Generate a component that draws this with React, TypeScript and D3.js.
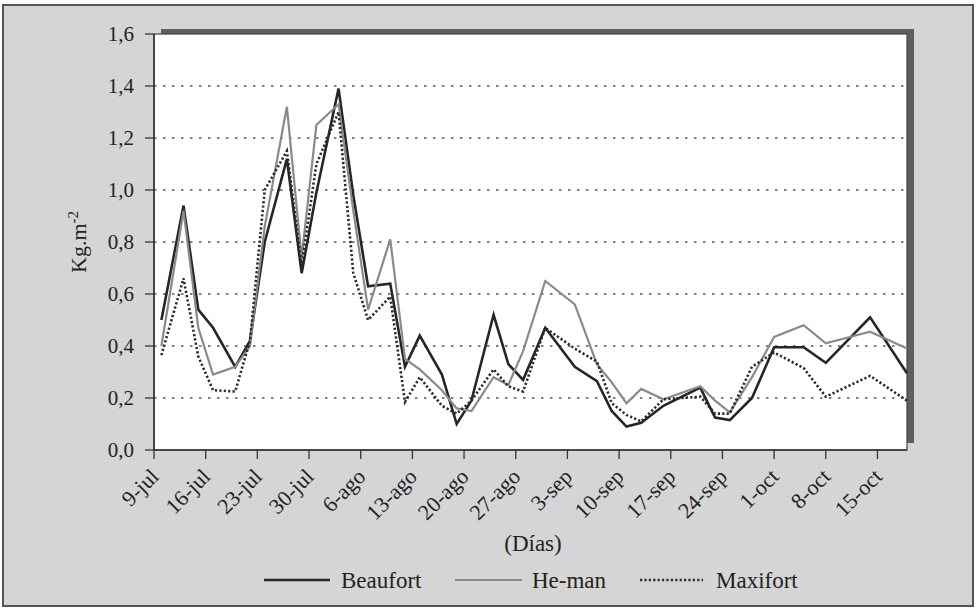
import React from 'react';
import * as d3 from 'd3';

// sampling dates (year is arbitrary, only day/month matter)
const dates = [
  '2003-07-10', '2003-07-13', '2003-07-15', '2003-07-17', '2003-07-20', '2003-07-22', '2003-07-24',
  '2003-07-27', '2003-07-29', '2003-07-31', '2003-08-03', '2003-08-05', '2003-08-07', '2003-08-10',
  '2003-08-12', '2003-08-14', '2003-08-17', '2003-08-19', '2003-08-21', '2003-08-24', '2003-08-26',
  '2003-08-28', '2003-08-31', '2003-09-04', '2003-09-07', '2003-09-09', '2003-09-11', '2003-09-13',
  '2003-09-16', '2003-09-21', '2003-09-23', '2003-09-25', '2003-09-28', '2003-10-01', '2003-10-05',
  '2003-10-08', '2003-10-14', '2003-10-19'
];

const beaufort = [
  0.50, 0.94, 0.54, 0.47, 0.32, 0.42, 0.80, 1.12, 0.68, 0.99,
  1.39, 0.98, 0.63, 0.64, 0.32, 0.44, 0.29, 0.10, 0.19, 0.52, 0.33, 0.27, 0.47,
  0.32, 0.265, 0.15, 0.09, 0.105, 0.17, 0.24, 0.125, 0.115, 0.20,
  0.395, 0.395, 0.335, 0.51, 0.295
];

const heman = [
  0.40, 0.92, 0.47, 0.29, 0.32, 0.40, 0.86, 1.32, 0.74, 1.25,
  1.33, 0.92, 0.54, 0.81, 0.35, 0.31, 0.23, 0.16, 0.15, 0.28, 0.25, 0.38, 0.65,
  0.56, 0.33, 0.26, 0.18, 0.235, 0.195, 0.245, 0.19, 0.145, 0.28,
  0.435, 0.48, 0.41, 0.455, 0.39
];

const maxifort = [
  0.365, 0.66, 0.36, 0.23, 0.225, 0.42, 1.00, 1.15, 0.71, 1.10,
  1.30, 0.68, 0.50, 0.59, 0.185, 0.28, 0.17, 0.14, 0.19, 0.31, 0.245, 0.225, 0.47,
  0.39, 0.34, 0.18, 0.135, 0.11, 0.195, 0.205, 0.14, 0.14, 0.32,
  0.375, 0.315, 0.205, 0.285, 0.19
];

const tickDates = [
  '2003-07-09', '2003-07-16', '2003-07-23', '2003-07-30', '2003-08-06', '2003-08-13', '2003-08-20',
  '2003-08-27', '2003-09-03', '2003-09-10', '2003-09-17', '2003-09-24', '2003-10-01', '2003-10-08',
  '2003-10-15'
];
const tickLabels = [
  '9-jul', '16-jul', '23-jul', '30-jul', '6-ago', '13-ago', '20-ago', '27-ago', '3-sep', '10-sep',
  '17-sep', '24-sep', '1-oct', '8-oct', '15-oct'
];

const yTicks = [0, 0.2, 0.4, 0.6, 0.8, 1.0, 1.2, 1.4, 1.6];

const W = 976;
const H = 609;
const FONT = "'Liberation Serif', 'Times New Roman', 'DejaVu Serif', serif";

export default function App() {
  const parse = d3.utcParse('%Y-%m-%d');
  const left = 154, right = 907, top = 34, bottom = 450;

  const x = d3.scaleUtc()
    .domain([parse('2003-07-09')!, parse('2003-10-19')!])
    .range([left, right]);
  const y = d3.scaleLinear().domain([0, 1.6]).range([bottom, top]);

  const fmt = (v: number) => v.toFixed(1).replace('.', ',');

  const series = [
    { name: 'Beaufort', values: beaufort, color: '#262626', width: 2.6, dash: undefined as string | undefined },
    { name: 'He-man', values: heman, color: '#8a8a8a', width: 2.2, dash: undefined as string | undefined },
    { name: 'Maxifort', values: maxifort, color: '#2a2a2a', width: 2.6, dash: '2.2,2.2' },
  ];

  const line = d3.line<number>()
    .x((_, i) => x(parse(dates[i])!))
    .y(d => y(d));

  const legendItems = [
    { x0: 264, x1: 330, tx: 341 },
    { x0: 455, x1: 522, tx: 532 },
    { x0: 640, x1: 703, tx: 716 },
  ];

  const txt = { fontFamily: FONT, fill: '#222' };

  return (
    <svg width={W} height={H} style={{ position: 'absolute', left: 0, top: 0 }}>
      <rect x={0} y={0} width={W} height={H} fill="#fff" />
      <rect x={3} y={5} width={970} height={601} fill="#d5d5d5" stroke="#555" strokeWidth={2} />

      {/* plot area shadow + panel */}
      <rect x={left + 7} y={top - 5} width={right - left} height={bottom - top - 2} fill="#5f5f5f" />
      <rect x={left} y={top} width={right - left} height={bottom - top} fill="#fff" stroke="#444" strokeWidth={1.2} />

      {/* grid */}
      {yTicks.filter(t => t > 0 && t < 1.6).map(t => (
        <line key={t} x1={left} x2={right} y1={y(t)} y2={y(t)}
          stroke="#555" strokeWidth={1.3} strokeDasharray="2.5,6.5" />
      ))}

      {/* series */}
      {series.map(s => (
        <path key={s.name} d={line(s.values) || ''} fill="none" stroke={s.color}
          strokeWidth={s.width} strokeDasharray={s.dash} strokeLinejoin="miter" />
      ))}

      {/* y axis */}
      <line x1={left} x2={left} y1={top} y2={bottom} stroke="#333" strokeWidth={1.5} />
      {yTicks.map(t => (
        <g key={t}>
          <line x1={left - 9} x2={left} y1={y(t)} y2={y(t)} stroke="#333" strokeWidth={1.3} />
          <text x={left - 20} y={y(t)} dy="0.35em" textAnchor="end" fontSize={21} style={txt}>{fmt(t)}</text>
        </g>
      ))}
      <text transform={`translate(86,${(top + bottom) / 2}) rotate(-90)`} textAnchor="middle" fontSize={22} style={txt}>
        Kg.m<tspan dy="-8" fontSize={15}>-2</tspan>
      </text>

      {/* x axis */}
      <line x1={left} x2={right} y1={bottom} y2={bottom} stroke="#333" strokeWidth={1.5} />
      {tickDates.map((d, i) => {
        const tx = x(parse(d)!);
        return (
          <g key={d}>
            <line x1={tx} x2={tx} y1={bottom} y2={bottom + 9} stroke="#333" strokeWidth={1.3} />
            <text transform={`translate(${tx + 6},${bottom + 28}) rotate(-45)`} textAnchor="end"
              fontSize={22} style={txt}>{tickLabels[i]}</text>
          </g>
        );
      })}
      <text x={533} y={551} textAnchor="middle" fontSize={23} style={txt}>(Días)</text>

      {/* legend */}
      {series.map((s, i) => (
        <g key={s.name}>
          <line x1={legendItems[i].x0} x2={legendItems[i].x1} y1={580} y2={580}
            stroke={s.color} strokeWidth={s.width} strokeDasharray={s.dash} />
          <text x={legendItems[i].tx} y={588} fontSize={23} style={txt}>{s.name}</text>
        </g>
      ))}
    </svg>
  );
}
